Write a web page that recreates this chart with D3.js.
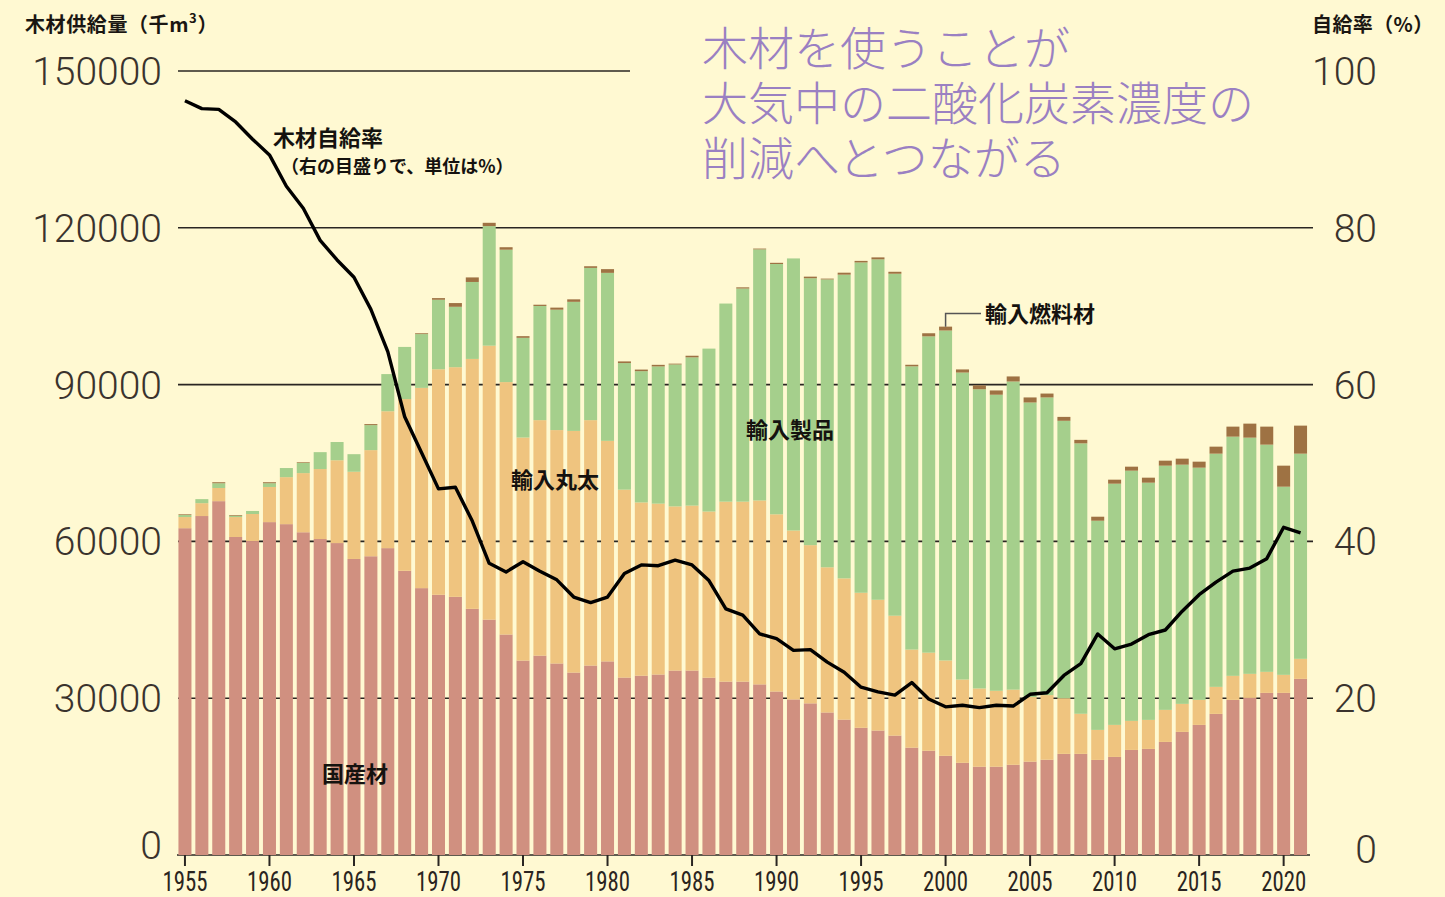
<!DOCTYPE html>
<html lang="ja">
<head>
<meta charset="utf-8">
<title>木材供給量と木材自給率の推移</title>
<script src="https://cdn.jsdelivr.net/npm/d3@7/dist/d3.min.js"></script>
<style>
  html, body { margin: 0; padding: 0; background: #fff9d2; }
  svg { display: block; }
</style>
</head>
<body>
<svg id="chart" width="1445" height="897"></svg>
<script>
// 年次（1955〜2021）
const years = d3.range(1955, 2022);

// 国産材（千m³）
const domestic = [
  62526, 64854, 67699, 60845, 60069, 63690, 63302, 61750, 60457, 59681,
  56642, 57159, 58711, 54383, 51058, 49792, 49396, 47100, 45042, 42192,
  37205, 38155, 36651, 34910, 36255, 37047, 33960, 34312, 34539, 35296,
  35296, 33934, 33178, 33178, 32648, 31286, 29773, 29017, 27276, 25914,
  24342, 23821, 22853, 20545, 19950, 18982, 17642, 16898, 16898, 17270,
  17866, 18238, 19354, 19354, 18192, 18766, 20106, 20298, 21638, 23553,
  24894, 27000, 29681, 30064, 31021, 31021, 33702
];

// 輸入丸太（千m³）
const importedLogs = [
  2134, 2457, 2522, 3815, 5173, 6725, 8988, 11316, 13385, 15842,
  16682, 20304, 26188, 32851, 38314, 43142, 43934, 47813, 52404, 48288,
  42668, 45043, 44647, 46229, 46943, 42192, 35938, 33139, 32685, 31399,
  31550, 31777, 34424, 34424, 35181, 33895, 32306, 30263, 27767, 27011,
  25831, 25012, 22928, 18759, 18759, 18238, 15930, 14962, 14516, 14367,
  12357, 12357, 10646, 7668, 5744, 6128, 5554, 5553, 6128, 5362,
  4787, 5170, 4596, 4596, 4022, 3447, 3830
];

// 輸入製品（千m³）
const importedProducts = [
  388, 776, 905, 259, 582, 711, 1746, 1940, 3233, 3492,
  3363, 4785, 7112, 9974, 10290, 13299, 11557, 14724, 22877, 25331,
  19077, 21847, 23035, 24699, 29130, 32140, 24223, 25119, 26254, 27161,
  28372, 31175, 37905, 40780, 48044, 47893, 52061, 51072, 55082, 58108,
  63199, 65134, 65432, 54193, 60520, 63126, 58734, 57245, 56649, 58957,
  56352, 56948, 53077, 51737, 40022, 46149, 47872, 45383, 46724, 45766,
  44426, 44618, 45766, 45191, 43468, 36001, 39256
];

// 輸入燃料材（千m³）
const importedFuel = [
  129, 0, 194, 129, 0, 194, 0, 129, 0, 0,
  0, 194, 0, 0, 159, 316, 713, 870, 633, 475,
  317, 238, 396, 474, 317, 712, 317, 303, 303, 152,
  303, 0, 0, 227, 151, 227, 0, 302, 151, 378,
  298, 373, 373, 297, 595, 744, 595, 745, 819, 967,
  968, 744, 744, 670, 766, 766, 766, 958, 957, 1149,
  1149, 1340, 1915, 2681, 3447, 4021, 5361
];

// 木材自給率（%）
const selfSufficiency = [
  96.2, 95.2, 95.1, 93.5, 91.3, 89.3, 85.3, 82.5, 78.4, 75.9,
  73.7, 69.6, 64.2, 55.9, 51.3, 46.7, 46.9, 42.6, 37.2, 36.1,
  37.4, 36.2, 35.1, 32.9, 32.2, 32.9, 35.9, 37.0, 36.9, 37.6,
  37.0, 35.0, 31.4, 30.6, 28.2, 27.6, 26.1, 26.2, 24.6, 23.3,
  21.4, 20.8, 20.4, 22.0, 19.9, 18.9, 19.1, 18.8, 19.1, 19.0,
  20.5, 20.7, 22.9, 24.4, 28.2, 26.3, 26.9, 28.1, 28.7, 31.1,
  33.2, 34.8, 36.2, 36.6, 37.8, 41.8, 41.1
];

// 目盛り
const leftTicks = [0, 30000, 60000, 90000, 120000, 150000];
const rightTicks = [0, 20, 40, 60, 80, 100];
const yearTicks = [1955, 1960, 1965, 1970, 1975, 1980, 1985, 1990, 1995, 2000, 2005, 2010, 2015, 2020];

const seriesKeys = ["domestic", "logs", "products", "fuel"];
const seriesColors = {
  domestic: "#d09080",
  logs: "#efc47f",
  products: "#a5cf8c",
  fuel: "#9e7243"
};

const rows = years.map((y, i) => ({
  year: y,
  domestic: domestic[i],
  logs: importedLogs[i],
  products: importedProducts[i],
  fuel: importedFuel[i],
  rate: selfSufficiency[i]
}));

const svg = d3.select("#chart");
const W = 1445, H = 897;
const jp = "'Noto Sans CJK JP', 'Noto Sans', sans-serif";

svg.append("rect").attr("width", W).attr("height", H).attr("fill", "#fff9d2");

const x = d3.scaleBand()
  .domain(years)
  .range([176.5, 1309])
  .paddingInner(0.23)
  .paddingOuter(0.115);

const y = d3.scaleLinear().domain([0, 150000]).range([855, 71]);
const yRate = d3.scaleLinear().domain([0, 100]).range([855, 71]);

// 横線（棒の背面）
const grid = svg.append("g");
grid.selectAll("line")
  .data(leftTicks.filter(t => t > 0))
  .join("line")
  .attr("x1", 178)
  .attr("x2", d => d === 150000 ? 630 : 1313)
  .attr("y1", d => y(d))
  .attr("y2", d => y(d))
  .attr("stroke", "#2a2622")
  .attr("stroke-width", 1.6);

// 基準線と年目盛り
const xAxis = d3.axisBottom(x)
  .tickValues(yearTicks)
  .tickSize(11)
  .tickSizeOuter(0)
  .tickFormat(d => String(d));
const gx = svg.append("g").attr("transform", "translate(0,855)").call(xAxis);
gx.select(".domain").attr("stroke", "#2a2622").attr("stroke-width", 1.6)
  .attr("d", "M177,0H1310");
gx.selectAll(".tick line").attr("stroke", "#2a2622").attr("stroke-width", 2);
gx.selectAll(".tick text")
  .attr("y", 35.5)
  .attr("dy", 0)
  .attr("fill", "#2a2420")
  .attr("font-family", "'Liberation Sans Narrow', 'Roboto Condensed', 'DejaVu Sans Condensed', 'Liberation Sans', sans-serif")
  .attr("font-size", 27)
  .attr("textLength", 45)
  .attr("lengthAdjust", "spacingAndGlyphs");

// 積み上げ棒
const stacked = d3.stack().keys(seriesKeys)(rows);
const bars = svg.append("g");
bars.selectAll("g")
  .data(stacked)
  .join("g")
  .attr("fill", d => seriesColors[d.key])
  .selectAll("rect")
  .data(d => d.filter(p => p[1] - p[0] > 0))
  .join("rect")
  .attr("x", d => x(d.data.year))
  .attr("width", x.bandwidth())
  .attr("y", d => y(d[1]))
  .attr("height", d => y(d[0]) - y(d[1]));

// 左目盛り（千m³）
const gl = svg.append("g");
gl.selectAll("text")
  .data(leftTicks)
  .join("text")
  .attr("x", 162)
  .attr("y", d => y(d) - (d === 0 ? 10 : 0))
  .attr("dy", "0.36em")
  .attr("text-anchor", "end")
  .attr("font-family", "Roboto, 'Open Sans', sans-serif")
  .attr("font-weight", 300)
  .attr("font-size", 39)
  .attr("fill", "#3a332d")
  .text(d => String(d));

// 右目盛り（%）
const gr = svg.append("g");
gr.selectAll("text")
  .data(rightTicks)
  .join("text")
  .attr("x", 1377)
  .attr("y", d => yRate(d) - (d === 0 ? 6 : 0))
  .attr("dy", "0.36em")
  .attr("text-anchor", "end")
  .attr("font-family", "Roboto, 'Open Sans', sans-serif")
  .attr("font-weight", 300)
  .attr("font-size", 39)
  .attr("fill", "#3a332d")
  .text(d => String(d));

// 木材自給率の折れ線
const line = d3.line()
  .x(d => x(d.year) + x.bandwidth() / 2)
  .y(d => yRate(d.rate));
svg.append("path")
  .datum(rows)
  .attr("d", line)
  .attr("fill", "none")
  .attr("stroke", "#000")
  .attr("stroke-width", 3.4)
  .attr("stroke-linejoin", "round");

// 軸タイトル
const t1 = svg.append("text")
  .attr("x", 25).attr("y", 25).attr("dy", "0.36em")
  .attr("font-family", jp).attr("font-weight", 700).attr("font-size", 20)
  .attr("letter-spacing", 0.6)
  .attr("fill", "#1a1612");
t1.append("tspan").text("木材供給量（千m");
t1.append("tspan").attr("font-size", 13).attr("dy", "-0.7em").text("3");
t1.append("tspan").attr("dy", "0.45em").text("）");

svg.append("text")
  .attr("x", 1312).attr("y", 25).attr("dy", "0.36em")
  .attr("font-family", jp).attr("font-weight", 700).attr("font-size", 20)
  .attr("letter-spacing", 0.4)
  .attr("fill", "#1a1612")
  .text("自給率（%）");

// 見出し（3行を1つのテキストに）
const heading = ["木材を使うことが", "大気中の二酸化炭素濃度の", "削減へとつながる"];
svg.append("text")
  .attr("x", 702)
  .attr("y", 48)
  .attr("font-family", jp)
  .attr("font-weight", 300)
  .attr("font-size", 46)
  .attr("fill", "#9a80c2")
  .selectAll("tspan")
  .data(heading)
  .join("tspan")
  .attr("x", 702)
  .attr("dy", (d, i) => i === 0 ? "0.36em" : 55)
  .text(d => d);

// 系列名
const labels = [
  { text: "木材自給率", x: 273, y: 138, size: 22 },
  { text: "（右の目盛りで、単位は%）", x: 281, y: 167, size: 18 },
  { text: "輸入丸太", x: 511, y: 480, size: 22 },
  { text: "輸入製品", x: 746, y: 430, size: 22 },
  { text: "国産材", x: 322, y: 774, size: 22 },
  { text: "輸入燃料材", x: 985, y: 314, size: 22 }
];
svg.append("g").selectAll("text")
  .data(labels)
  .join("text")
  .attr("x", d => d.x)
  .attr("y", d => d.y)
  .attr("dy", "0.36em")
  .attr("font-family", jp)
  .attr("font-weight", 700)
  .attr("font-size", d => d.size)
  .attr("fill", "#15120f")
  .text(d => d.text);

// 輸入燃料材の引き出し線（2000年の棒）
const fuelYear = 2000;
const fuelRow = rows.find(r => r.year === fuelYear);
const fx = x(fuelYear) + x.bandwidth() / 2;
const fTop = y(fuelRow.domestic + fuelRow.logs + fuelRow.products + fuelRow.fuel);
svg.append("path")
  .attr("d", `M${fx},${fTop} V313.5 H981`)
  .attr("fill", "none")
  .attr("stroke", "#555")
  .attr("stroke-width", 1.5);
</script>
</body>
</html>
